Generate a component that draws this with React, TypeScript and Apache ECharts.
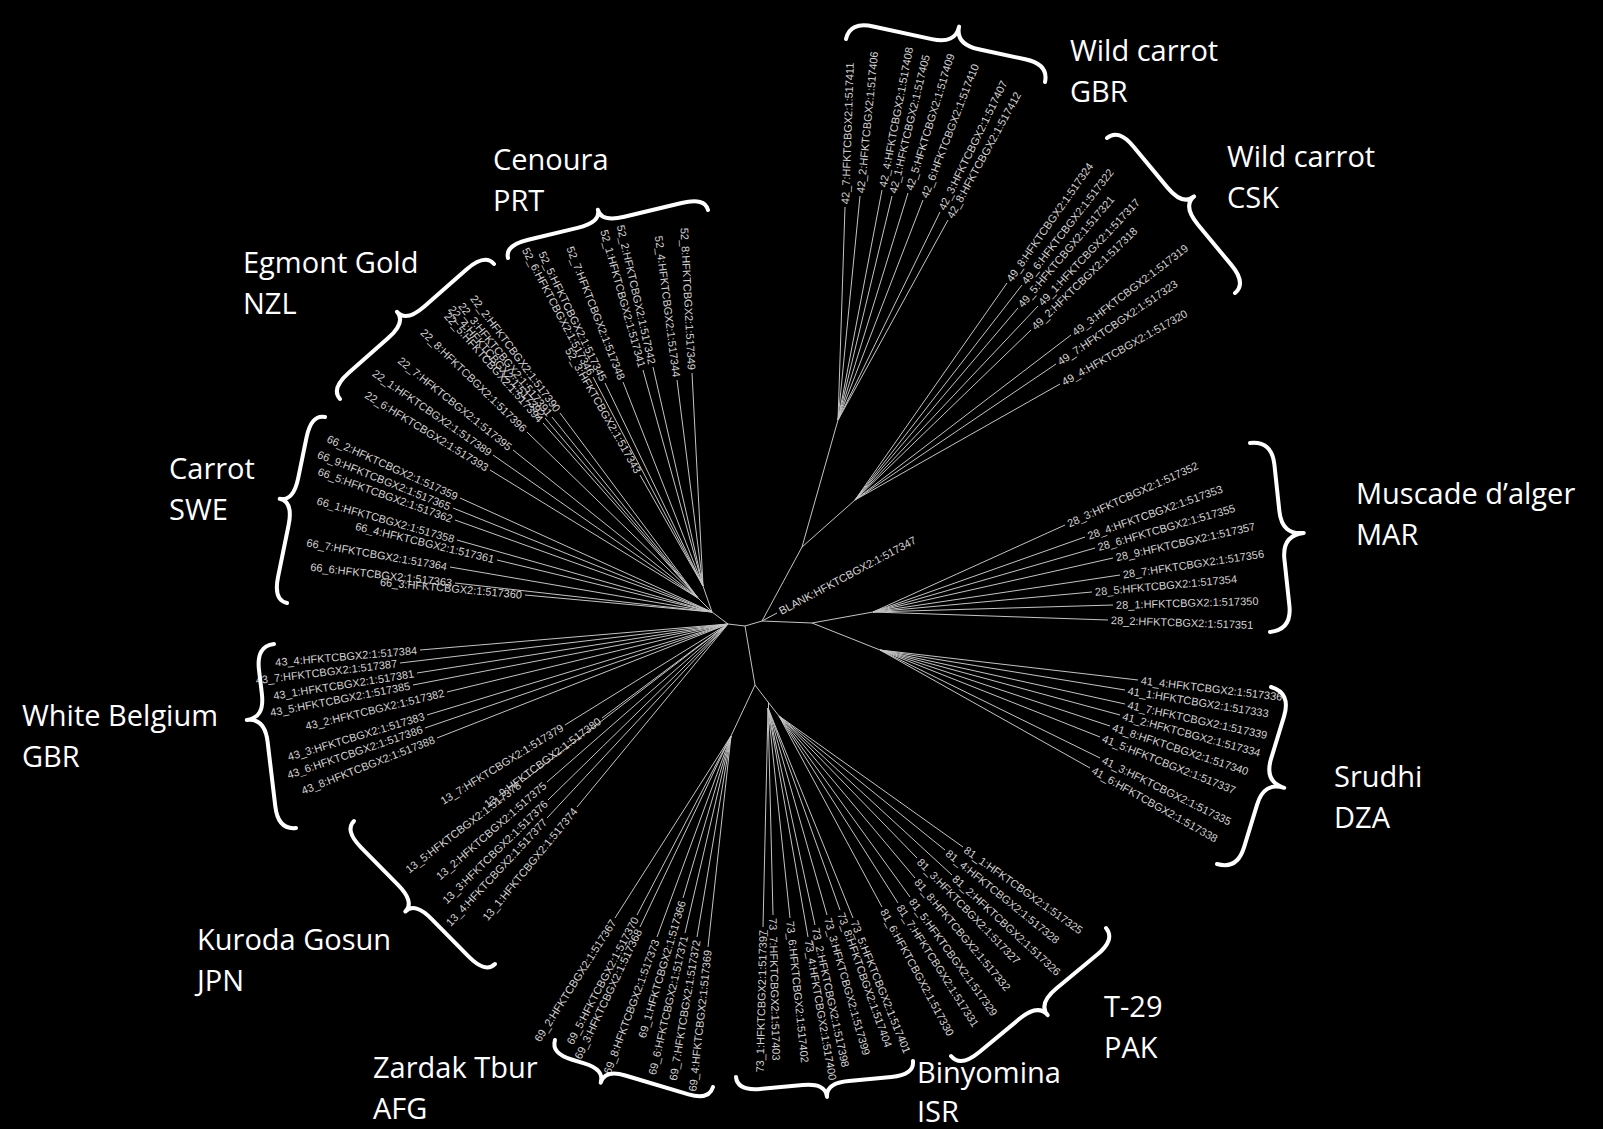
import React, { useEffect, useRef } from "react";
import * as echarts from "echarts";

const CANVAS_W = 1603;
const CANVAS_H = 1129;

// ---- internal tree nodes (data units = reference pixels) ----
const nodeIds = ["C0", "L", "U", "H22", "H52", "R", "N1", "H42", "H49", "N3", "H28", "H41", "D", "H69", "B", "H73", "H81"];
const nodeX = [745, 728, 712, 698, 703, 762, 802, 838, 855, 812, 873, 880, 755, 731, 768, 768, 779];
const nodeY = [626, 624, 612, 598, 586, 621, 547, 420, 500, 623, 612, 650, 685, 736, 702, 708, 716];

const edgeFrom = ["C0", "L", "U", "U", "C0", "R", "N1", "N1", "R", "N3", "N3", "C0", "D", "D", "B", "B"];
const edgeTo = ["L", "U", "H22", "H52", "R", "N1", "H42", "H49", "N3", "H28", "H41", "D", "H69", "B", "H73", "H81"];

// ---- leaves per clade: [label, tipX, tipY] ----
const wildCarrotGBR: [string, number, number][] = [
  ["42_7:HFKTCBGX2:1:517411", 845, 207],
  ["42_2:HFKTCBGX2:1:517406", 860, 196],
  ["42_4:HFKTCBGX2:1:517408", 882, 190],
  ["42_1:HFKTCBGX2:1:517405", 892, 196],
  ["42_5:HFKTCBGX2:1:517409", 908, 193],
  ["42_6:HFKTCBGX2:1:517410", 923, 200],
  ["42_3:HFKTCBGX2:1:517407", 940, 212],
  ["42_8:HFKTCBGX2:1:517412", 948, 220],
];
const wildCarrotCSK: [string, number, number][] = [
  ["49_8:HFKTCBGX2:1:517324", 1007, 283],
  ["49_6:HFKTCBGX2:1:517322", 1022, 285],
  ["49_5:HFKTCBGX2:1:517321", 1018, 308],
  ["49_1:HFKTCBGX2:1:517317", 1038, 306],
  ["49_2:HFKTCBGX2:1:517318", 1031, 330],
  ["49_3:HFKTCBGX2:1:517319", 1071, 335],
  ["49_7:HFKTCBGX2:1:517323", 1056, 364],
  ["49_4:HFKTCBGX2:1:517320", 1060, 384],
];
const muscadeMAR: [string, number, number][] = [
  ["28_3:HFKTCBGX2:1:517352", 1065, 525],
  ["28_4:HFKTCBGX2:1:517353", 1085, 537],
  ["28_6:HFKTCBGX2:1:517355", 1095, 548],
  ["28_9:HFKTCBGX2:1:517357", 1113, 558],
  ["28_7:HFKTCBGX2:1:517356", 1120, 575],
  ["28_5:HFKTCBGX2:1:517354", 1092, 592],
  ["28_1:HFKTCBGX2:1:517350", 1113, 605],
  ["28_2:HFKTCBGX2:1:517351", 1108, 620],
];
const srudhiDZA: [string, number, number][] = [
  ["41_4:HFKTCBGX2:1:517336", 1138, 680],
  ["41_1:HFKTCBGX2:1:517333", 1125, 690],
  ["41_7:HFKTCBGX2:1:517339", 1125, 704],
  ["41_2:HFKTCBGX2:1:517334", 1120, 715],
  ["41_8:HFKTCBGX2:1:517340", 1110, 726],
  ["41_5:HFKTCBGX2:1:517337", 1100, 737],
  ["41_3:HFKTCBGX2:1:517335", 1100, 758],
  ["41_6:HFKTCBGX2:1:517338", 1090, 768],
];
const t29PAK: [string, number, number][] = [
  ["81_1:HFKTCBGX2:1:517325", 963, 847],
  ["81_4:HFKTCBGX2:1:517328", 945, 850],
  ["81_3:HFKTCBGX2:1:517327", 917, 858],
  ["81_2:HFKTCBGX2:1:517326", 952, 875],
  ["81_8:HFKTCBGX2:1:517332", 915, 878],
  ["81_5:HFKTCBGX2:1:517329", 910, 897],
  ["81_7:HFKTCBGX2:1:517331", 898, 903],
  ["81_6:HFKTCBGX2:1:517330", 882, 907],
];
const binyominaISR: [string, number, number][] = [
  ["73_1:HFKTCBGX2:1:517397", 763, 927],
  ["73_7:HFKTCBGX2:1:517403", 773, 915],
  ["73_6:HFKTCBGX2:1:517402", 790, 918],
  ["73_4:HFKTCBGX2:1:517400", 808, 937],
  ["73_2:HFKTCBGX2:1:517398", 815, 925],
  ["73_3:HFKTCBGX2:1:517399", 827, 915],
  ["73_8:HFKTCBGX2:1:517404", 840, 910],
  ["73_5:HFKTCBGX2:1:517401", 853, 918],
];
const zardakAFG: [string, number, number][] = [
  ["69_2:HFKTCBGX2:1:517367", 615, 918],
  ["69_5:HFKTCBGX2:1:517370", 637, 915],
  ["69_3:HFKTCBGX2:1:517368", 640, 927],
  ["69_8:HFKTCBGX2:1:517373", 657, 937],
  ["69_1:HFKTCBGX2:1:517366", 683, 898],
  ["69_6:HFKTCBGX2:1:517371", 685, 933],
  ["69_7:HFKTCBGX2:1:517372", 697, 937],
  ["69_4:HFKTCBGX2:1:517369", 708, 947],
];
const kurodaJPN: [string, number, number][] = [
  ["13_7:HFKTCBGX2:1:517379", 565, 725],
  ["13_9:HFKTCBGX2:1:517380", 602, 718],
  ["13_5:HFKTCBGX2:1:517378", 522, 782],
  ["13_2:HFKTCBGX2:1:517375", 547, 782],
  ["13_3:HFKTCBGX2:1:517376", 548, 800],
  ["13_4:HFKTCBGX2:1:517377", 547, 818],
  ["13_1:HFKTCBGX2:1:517374", 577, 807],
];
const whiteBelgiumGBR: [string, number, number][] = [
  ["43_4:HFKTCBGX2:1:517384", 420, 650],
  ["43_7:HFKTCBGX2:1:517387", 400, 663],
  ["43_1:HFKTCBGX2:1:517381", 417, 673],
  ["43_5:HFKTCBGX2:1:517385", 413, 685],
  ["43_2:HFKTCBGX2:1:517382", 447, 692],
  ["43_3:HFKTCBGX2:1:517383", 427, 715],
  ["43_6:HFKTCBGX2:1:517386", 425, 728],
  ["43_8:HFKTCBGX2:1:517388", 437, 738],
];
const carrotSWE: [string, number, number][] = [
  ["66_2:HFKTCBGX2:1:517359", 460, 498],
  ["66_9:HFKTCBGX2:1:517365", 453, 508],
  ["66_5:HFKTCBGX2:1:517362", 455, 520],
  ["66_1:HFKTCBGX2:1:517358", 457, 540],
  ["66_4:HFKTCBGX2:1:517361", 497, 560],
  ["66_7:HFKTCBGX2:1:517364", 450, 567],
  ["66_6:HFKTCBGX2:1:517363", 455, 583],
  ["66_3:HFKTCBGX2:1:517360", 525, 595],
];
const egmontNZL: [string, number, number][] = [
  ["22_2:HFKTCBGX2:1:517390", 560, 413],
  ["22_3:HFKTCBGX2:1:517391", 552, 417],
  ["22_4:HFKTCBGX2:1:517392", 545, 418],
  ["22_5:HFKTCBGX2:1:517394", 543, 423],
  ["22_8:HFKTCBGX2:1:517396", 527, 432],
  ["22_7:HFKTCBGX2:1:517395", 513, 450],
  ["22_1:HFKTCBGX2:1:517389", 493, 455],
  ["22_6:HFKTCBGX2:1:517393", 490, 470],
];
const cenouraPRT: [string, number, number][] = [
  ["52_6:HFKTCBGX2:1:517346", 593, 377],
  ["52_5:HFKTCBGX2:1:517345", 605, 383],
  ["52_7:HFKTCBGX2:1:517348", 623, 382],
  ["52_1:HFKTCBGX2:1:517341", 643, 370],
  ["52_2:HFKTCBGX2:1:517342", 653, 367],
  ["52_4:HFKTCBGX2:1:517344", 677, 380],
  ["52_8:HFKTCBGX2:1:517349", 692, 373],
  ["52_3:HFKTCBGX2:1:517343", 640, 475],
];
const blankLeaf: [string, number, number][] = [["BLANK:HFKTCBGX2:1:517347", 777, 613]];

const cladeLeaves = [wildCarrotGBR, wildCarrotCSK, muscadeMAR, srudhiDZA, t29PAK, binyominaISR, zardakAFG, kurodaJPN, whiteBelgiumGBR, carrotSWE, egmontNZL, cenouraPRT, blankLeaf];
const cladeHub = ["H42", "H49", "H28", "H41", "H81", "H73", "H69", "L", "L", "U", "H22", "H52", "R"];

// ---- group titles ----
const titleLine1 = ["Wild carrot", "Wild carrot", "Muscade d’alger", "Srudhi", "T-29", "Binyomina", "Zardak Tbur", "Kuroda Gosun", "White Belgium", "Carrot", "Egmont Gold", "Cenoura"];
const titleLine2 = ["GBR", "CSK", "MAR", "DZA", "PAK", "ISR", "AFG", "JPN", "GBR", "SWE", "NZL", "PRT"];
const titleX = [1070, 1227, 1356, 1334, 1104, 917, 373, 197, 22, 169, 243, 493];
const titleY = [49, 155, 492, 775, 1005, 1071, 1066, 938, 714, 467, 261, 158];
const titleGap = [41, 41, 41, 41, 41, 39, 41, 41, 41, 41, 41, 41];

// ---- braces: two ends (clockwise), depth to cusp, cusp position along chord ----
const braceP1X = [846, 1107, 1250, 1271, 1106, 913, 713, 495, 296, 287, 340, 508];
const braceP1Y = [39, 138, 443, 687, 928, 1061, 1087, 964, 828, 603, 399, 258];
const braceP2X = [1045, 1235, 1270, 1217, 951, 736, 555, 354, 274, 325, 494, 708];
const braceP2Y = [82, 293, 632, 864, 1056, 1077, 1040, 821, 644, 417, 264, 210];
const braceDepth = [36, 30, 44, 42, 30, 28, 28, 27, 36, 28, 28, 26];
const braceCusp = [0.53, 0.5, 0.5, 0.5, 0.5, 0.5, 0.66, 0.5, 0.61, 0.53, 0.49, 0.48];

function nodePos(id: string): [number, number] {
  const i = nodeIds.indexOf(id);
  return [nodeX[i], nodeY[i]];
}

function bracePath(p1: number[], p2: number[], h: number, t: number): string {
  const dx = p2[0] - p1[0];
  const dy = p2[1] - p1[1];
  const L = Math.hypot(dx, dy);
  const ux = dx / L, uy = dy / L;
  const nx = uy, ny = -ux;
  const P = (u: number, v: number) => `${(p1[0] + ux * u + nx * v).toFixed(1)} ${(p1[1] + uy * u + ny * v).toFixed(1)}`;
  const q = Math.min(24, L * 0.13);
  const c = t * L;
  const m = h * 0.5;
  return `M ${P(0, 0)} Q ${P(0, m)} ${P(q, m)} L ${P(c - q, m)} Q ${P(c, m)} ${P(c, h)} Q ${P(c, m)} ${P(c + q, m)} L ${P(L - q, m)} Q ${P(L, m)} ${P(L, 0)}`;
}

export default function App() {
  const ref = useRef<HTMLDivElement>(null);

  useEffect(() => {
    if (!ref.current) return;
    const chart = echarts.init(ref.current, undefined, { renderer: "svg" });

    const segments: { coords: number[][] }[] = [];
    edgeFrom.forEach((f, i) => {
      segments.push({ coords: [nodePos(f), nodePos(edgeTo[i])] });
    });
    const leaves: { label: string; x: number; y: number; hx: number; hy: number }[] = [];
    cladeLeaves.forEach((arr, ci) => {
      const hub = nodePos(cladeHub[ci]);
      arr.forEach(([label, x, y]) => {
        leaves.push({ label, x, y, hx: hub[0], hy: hub[1] });
        segments.push({ coords: [hub, [x, y]] });
      });
    });

    const option: any = {
      animation: false,
      backgroundColor: "#000000",
      grid: { left: 0, right: 0, top: 0, bottom: 0 },
      xAxis: { type: "value", min: 0, max: CANVAS_W, show: false },
      yAxis: { type: "value", min: 0, max: CANVAS_H, inverse: true, show: false },
      series: [
        {
          type: "lines",
          coordinateSystem: "cartesian2d",
          silent: true,
          lineStyle: { color: "#c4c4c4", width: 1, opacity: 1 },
          data: segments,
        },
        {
          type: "custom",
          coordinateSystem: "cartesian2d",
          silent: true,
          data: leaves.map((l) => [l.x, l.y]),
          encode: { x: 0, y: 1 },
          renderItem: (params: any, api: any) => {
            const leaf = leaves[params.dataIndex];
            const tip = api.coord([leaf.x, leaf.y]);
            const hub = api.coord([leaf.hx, leaf.hy]);
            const ang = Math.atan2(tip[1] - hub[1], tip[0] - hub[0]);
            const right = Math.cos(ang) >= 0;
            const gap = 3;
            return {
              type: "text",
              x: tip[0] + gap * Math.cos(ang),
              y: tip[1] + gap * Math.sin(ang),
              rotation: right ? -ang : -(ang + Math.PI),
              style: {
                text: leaf.label,
                align: right ? "left" : "right",
                verticalAlign: "middle",
                fill: "#d2d2d2",
                font: '11px "Liberation Sans", Arial, sans-serif',
              },
            };
          },
        },
        {
          type: "custom",
          coordinateSystem: "cartesian2d",
          silent: true,
          data: braceP1X.map((x, i) => [x, braceP1Y[i]]),
          encode: { x: 0, y: 1 },
          renderItem: (params: any, api: any) => {
            const i = params.dataIndex;
            const p1 = api.coord([braceP1X[i], braceP1Y[i]]);
            const p2 = api.coord([braceP2X[i], braceP2Y[i]]);
            return {
              type: "path",
              shape: { pathData: bracePath(p1, p2, braceDepth[i], braceCusp[i]) },
              style: { stroke: "#ffffff", lineWidth: 4, fill: "none", lineCap: "round", lineJoin: "round" },
            };
          },
        },
        {
          type: "custom",
          coordinateSystem: "cartesian2d",
          silent: true,
          data: titleX.map((x, i) => [x, titleY[i]]),
          encode: { x: 0, y: 1 },
          renderItem: (params: any, api: any) => {
            const i = params.dataIndex;
            const p = api.coord([titleX[i], titleY[i]]);
            const font = '29px "Open Sans", "Noto Sans", sans-serif';
            return {
              type: "group",
              children: [
                {
                  type: "text",
                  x: p[0],
                  y: p[1],
                  style: { text: titleLine1[i], fill: "#ffffff", font, align: "left", verticalAlign: "middle" },
                },
                {
                  type: "text",
                  x: p[0],
                  y: p[1] + titleGap[i],
                  style: { text: titleLine2[i], fill: "#ffffff", font, align: "left", verticalAlign: "middle" },
                },
              ],
            };
          },
        },
      ],
    };

    chart.setOption(option);
    return () => chart.dispose();
  }, []);

  return (
    <div
      ref={ref}
      style={{ position: "absolute", left: 0, top: 0, width: CANVAS_W, height: CANVAS_H, background: "#000" }}
    />
  );
}
